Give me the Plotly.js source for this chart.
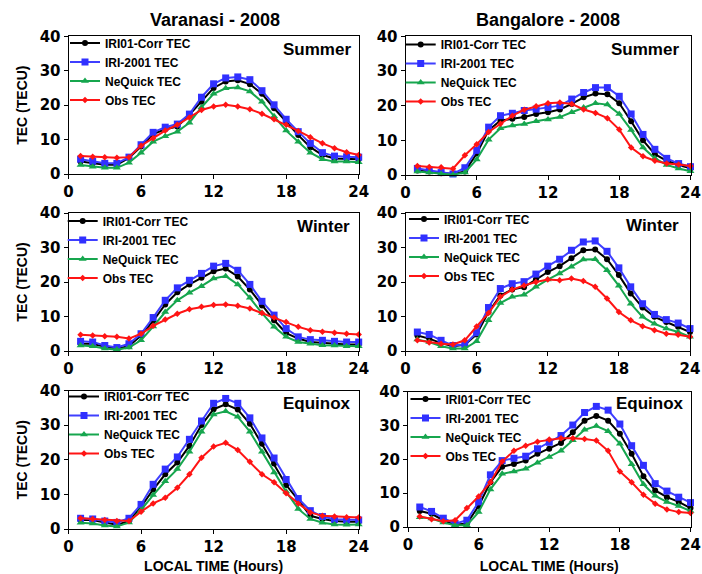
<!DOCTYPE html>
<html>
<head>
<meta charset="utf-8">
<script src="https://cdn.plot.ly/plotly-3.0.1.min.js"></script>
<style>
  html, body { margin: 0; padding: 0; background: #ffffff; }
  #chart { width: 702px; height: 574px; }
</style>
</head>
<body>
<div id="chart"></div>
<script>
// Local time (hours)
const hours = [1,2,3,4,5,6,7,8,9,10,11,12,13,14,15,16,17,18,19,20,21,22,23,24];

const seriesNames = ['IRI01-Corr TEC', 'IRI-2001 TEC', 'NeQuick TEC', 'Obs TEC'];
const xTicks = [0, 6, 12, 18, 24];
const yTicks = [0, 10, 20, 30, 40];

// Varanasi - 2008
const varSummerCorr = [3.6,3.1,2.7,2.7,4.7,8.0,11.6,13.0,13.8,17.2,21.0,25.0,26.9,27.2,26.1,23.3,19.1,15.2,11.3,7.8,5.5,4.5,4.4,4.3];
const varSummerIri  = [4.3,3.7,3.1,3.1,4.9,8.5,12.1,13.6,14.5,17.4,22.3,26.2,27.9,28.2,27.4,24.2,20.1,15.9,12.3,8.9,6.2,5.2,5.0,4.9];
const varSummerNeq  = [2.6,2.1,1.8,1.8,3.3,6.2,9.4,11.0,12.3,14.9,19.4,23.3,24.9,25.1,24.0,21.0,16.8,12.6,9.4,6.2,4.3,3.6,3.6,3.4];
const varSummerObs  = [5.2,5.0,4.9,4.7,4.9,8.2,10.4,12.6,14.3,16.4,18.6,19.6,20.1,19.6,18.8,17.5,15.9,14.3,12.5,10.7,8.9,7.5,6.3,5.5];

const varWinterCorr = [2.1,2.1,1.2,0.7,1.4,4.5,8.7,13.5,17.0,19.3,21.2,23.1,23.9,21.6,17.8,13.2,8.9,5.2,3.6,2.6,2.3,2.1,1.9,1.9];
const varWinterIri  = [2.8,2.6,1.6,1.0,2.1,5.0,9.7,14.7,18.3,20.5,22.5,24.6,25.4,23.4,19.3,14.4,10.4,6.5,4.1,3.3,3.1,2.8,2.6,2.6];
const varWinterNeq  = [1.6,1.4,0.7,0.4,1.0,3.1,7.1,11.3,14.7,16.9,18.8,21.0,21.7,19.3,15.4,11.0,7.0,4.1,2.6,2.1,1.7,1.6,1.4,1.4];
const varWinterObs  = [4.7,4.5,4.3,4.1,3.6,5.0,7.3,9.1,10.8,12.1,12.8,13.3,13.5,13.1,12.3,11.0,9.7,8.4,7.0,6.0,5.6,5.3,5.0,4.8];

const varEquinoxCorr = [2.6,2.6,1.9,1.2,2.3,6.4,11.4,15.8,19.2,24.0,30.0,34.6,36.0,34.5,30.4,24.6,18.9,12.7,8.4,3.8,2.9,2.3,2.1,2.1];
const varEquinoxIri  = [3.1,2.9,2.3,1.9,3.1,7.1,12.9,17.3,20.8,25.9,31.2,36.3,37.7,36.3,32.1,26.3,20.5,14.3,8.8,5.3,3.6,2.8,2.6,2.6];
const varEquinoxNeq  = [1.8,1.6,1.0,0.7,1.9,5.5,9.8,13.8,17.3,22.3,28.1,33.1,34.0,32.4,28.1,22.3,16.3,10.8,5.8,2.9,1.8,1.3,1.2,1.3];
const varEquinoxObs  = [3.1,2.9,2.6,2.3,2.3,5.0,7.4,9.0,11.9,15.8,20.6,23.8,24.9,22.8,19.4,15.8,13.5,10.3,7.4,4.8,3.8,3.6,3.4,3.3];

// Bangalore - 2008
const banSummerCorr = [1.3,1.0,0.5,0.3,1.0,6.2,12.9,15.7,16.2,16.7,17.6,18.1,18.9,20.5,22.4,23.5,23.3,20.7,15.5,10.0,6.0,4.1,2.9,1.9];
const banSummerIri  = [1.9,1.4,0.7,0.3,2.1,7.1,13.8,17.1,17.8,18.6,19.0,19.5,20.0,21.9,23.8,25.2,25.2,22.7,17.6,11.7,7.4,4.8,3.3,2.4];
const banSummerNeq  = [1.0,0.7,0.3,0.1,0.7,4.5,10.2,13.5,14.3,14.7,15.5,16.0,16.7,18.1,19.5,20.7,20.3,17.6,13.0,7.9,4.8,2.9,1.9,1.1];
const banSummerObs  = [2.6,2.3,2.2,1.8,5.7,8.9,12.4,14.8,17.1,18.8,19.8,20.7,20.9,20.5,18.9,17.9,16.4,13.1,7.9,5.4,4.1,3.3,3.0,2.6];

const banWinterCorr = [4.5,3.6,2.3,1.4,1.8,4.8,11.3,16.1,17.8,18.5,20.7,22.9,24.6,26.9,29.2,29.4,26.6,22.0,16.7,12.6,9.9,8.4,7.0,5.5];
const banWinterIri  = [5.5,4.8,3.1,1.6,1.9,5.3,12.6,18.1,19.5,20.1,22.3,24.6,26.6,29.2,31.6,31.9,28.9,24.1,18.6,13.7,10.6,9.1,8.1,6.5];
const banWinterNeq  = [3.3,2.6,1.4,0.7,0.7,2.8,8.9,13.9,15.7,16.3,18.6,20.7,22.5,24.4,26.5,26.6,23.4,18.9,13.7,9.9,7.9,6.5,5.5,4.1];
const banWinterObs  = [3.1,2.5,2.1,1.9,3.1,7.1,11.0,15.7,17.8,19.0,20.0,20.7,20.5,21.0,20.3,18.6,15.2,11.3,8.9,7.2,6.0,5.0,4.7,4.1];

const banEquinoxCorr = [4.7,3.9,2.0,0.7,1.0,6.2,13.2,17.8,18.6,19.6,21.6,23.1,24.8,28.0,31.4,32.8,31.4,27.5,21.6,15.0,10.8,8.8,7.4,5.6];
const banEquinoxIri  = [5.9,4.6,2.6,1.0,2.0,7.4,15.4,19.6,20.3,20.9,23.1,25.0,27.0,30.1,33.8,35.6,34.5,30.4,24.0,18.2,12.8,10.6,8.8,7.2];
const banEquinoxNeq  = [2.9,2.5,1.3,0.5,0.5,4.4,11.1,15.7,16.4,17.2,19.0,20.7,22.5,25.6,28.7,29.8,28.3,24.6,18.5,12.6,9.2,7.4,6.2,4.7];
const banEquinoxObs  = [3.1,2.3,1.7,2.0,5.6,9.0,13.2,19.3,22.5,24.0,25.2,25.8,26.2,26.2,26.0,25.5,22.5,16.4,13.2,9.5,6.9,5.2,4.4,4.1];

// ---- layout helpers (pixel geometry of a 702 x 574 figure) ----
const W = 702, H = 574;
const px = v => v / W;          // x pixel -> paper fraction
const py = v => 1 - v / H;      // y pixel (from top) -> paper fraction

const FONT = 'Liberation Sans, Arial, sans-serif';
const TICKFONT = 'DejaVu Sans, Verdana, sans-serif';

const seriesStyle = [
  { line: '#000000', marker: { symbol: 'circle', size: 6, color: '#000000' } },
  { line: '#3f3fff', marker: { symbol: 'square', size: 7, color: '#3030ff' } },
  { line: '#16a64e', marker: { symbol: 'triangle-up', size: 7, color: '#16a64e' } },
  { line: '#ff1414', marker: { symbol: 'diamond', size: 5, color: '#ff1414' } }
];

// One entry per panel: data, plot-area box (px) and legend anchor (px)
const panels = [
  { series: [varSummerCorr, varSummerIri, varSummerNeq, varSummerObs],
    box: [68.5, 358.7, 36.3, 174], legend: [65, 28.5], season: 'Summer', seasonPos: [353, 50], yTitle: true, xTitle: false },
  { series: [banSummerCorr, banSummerIri, banSummerNeq, banSummerObs],
    box: [405.5, 690.5, 36.3, 175], legend: [400.7, 30], season: 'Summer', seasonPos: [681, 50], yTitle: false, xTitle: false },
  { series: [varWinterCorr, varWinterIri, varWinterNeq, varWinterObs],
    box: [68.5, 358.7, 213, 351], legend: [62.7, 206.5], season: 'Winter', seasonPos: [352, 227], yTitle: true, xTitle: false },
  { series: [banWinterCorr, banWinterIri, banWinterNeq, banWinterObs],
    box: [405.5, 690, 213, 351], legend: [404, 204.5], season: 'Winter', seasonPos: [681, 225], yTitle: false, xTitle: false },
  { series: [varEquinoxCorr, varEquinoxIri, varEquinoxNeq, varEquinoxObs],
    box: [68.5, 358.7, 390.5, 529], legend: [64, 382], season: 'Equinox', seasonPos: [353, 403], yTitle: true, xTitle: true },
  { series: [banEquinoxCorr, banEquinoxIri, banEquinoxNeq, banEquinoxObs],
    box: [408, 690.5, 391.5, 527], legend: [405.5, 384.5], season: 'Equinox', seasonPos: [686, 403], yTitle: false, xTitle: true }
];

const traces = [];
const layout = {
  width: W, height: H,
  margin: { l: 0, r: 0, t: 0, b: 0 },
  paper_bgcolor: '#ffffff',
  plot_bgcolor: '#ffffff',
  font: { family: FONT, color: '#000000' },
  annotations: [
    { text: '<b>Varanasi - 2008</b>', xref: 'paper', yref: 'paper', x: px(215), y: py(20),
      xanchor: 'center', yanchor: 'middle', showarrow: false, font: { family: FONT, size: 18, color: '#000' } },
    { text: '<b>Bangalore - 2008</b>', xref: 'paper', yref: 'paper', x: px(548), y: py(20),
      xanchor: 'center', yanchor: 'middle', showarrow: false, font: { family: FONT, size: 18, color: '#000' } }
  ]
};

panels.forEach((p, i) => {
  const n = i + 1;
  const xKey = n === 1 ? 'xaxis' : 'xaxis' + n;
  const yKey = n === 1 ? 'yaxis' : 'yaxis' + n;
  const xRef = n === 1 ? 'x' : 'x' + n;
  const yRef = n === 1 ? 'y' : 'y' + n;
  const legKey = n === 1 ? 'legend' : 'legend' + n;

  p.series.forEach((vals, k) => {
    const st = seriesStyle[k];
    traces.push({
      type: 'scatter', mode: 'lines+markers',
      x: hours, y: vals, name: seriesNames[k],
      xaxis: xRef, yaxis: yRef, legend: legKey,
      cliponaxis: false,
      line: { color: st.line, width: 2 },
      marker: Object.assign({ line: { width: 0 } }, st.marker)
    });
  });

  const [x0, x1, yTop, yBot] = p.box;
  layout[xKey] = {
    domain: [px(x0), px(x1)], anchor: yRef,
    range: [0, 24], tickvals: xTicks, ticktext: xTicks.map(String),
    ticks: 'outside', ticklen: 4, tickwidth: 1, tickcolor: '#000',
    ticklabeloverflow: 'allow',
    showline: true, linecolor: '#000', linewidth: 1, mirror: true,
    showgrid: false, zeroline: false,
    tickfont: { family: TICKFONT, size: 15, color: '#000', weight: 'bold' },
    title: p.xTitle ? { text: '<b>LOCAL TIME (Hours)</b>', font: { family: FONT, size: 14, color: '#000' }, standoff: 14 } : { text: '' }
  };
  layout[yKey] = {
    domain: [py(yBot), py(yTop)], anchor: xRef,
    range: [0, 40], tickvals: yTicks, ticktext: yTicks.map(String),
    ticks: 'outside', ticklen: 4, tickwidth: 1, tickcolor: '#000',
    ticklabeloverflow: 'allow',
    showline: true, linecolor: '#000', linewidth: 1, mirror: true,
    showgrid: false, zeroline: false,
    tickfont: { family: TICKFONT, size: 15, color: '#000', weight: 'bold' },
    title: p.yTitle ? { text: '<b>TEC (TECU)</b>', font: { family: FONT, size: 14, color: '#000' }, standoff: 8 } : { text: '' }
  };
  layout[legKey] = {
    x: px(p.legend[0]), y: py(p.legend[1]), xanchor: 'left', yanchor: 'top',
    xref: 'paper', yref: 'paper',
    bgcolor: 'rgba(0,0,0,0)', borderwidth: 0,
    font: { family: FONT, size: 12, color: '#000', weight: 'bold' },
    itemwidth: 30
  };
  layout.annotations.push({
    text: '<b>' + p.season + '</b>', xref: 'paper', yref: 'paper',
    x: px(p.seasonPos[0]), y: py(p.seasonPos[1]), xanchor: 'right', yanchor: 'middle',
    showarrow: false, font: { family: FONT, size: 17, color: '#000' }
  });
});

Plotly.newPlot('chart', traces, layout, { displayModeBar: false, staticPlot: true });
</script>
</body>
</html>
